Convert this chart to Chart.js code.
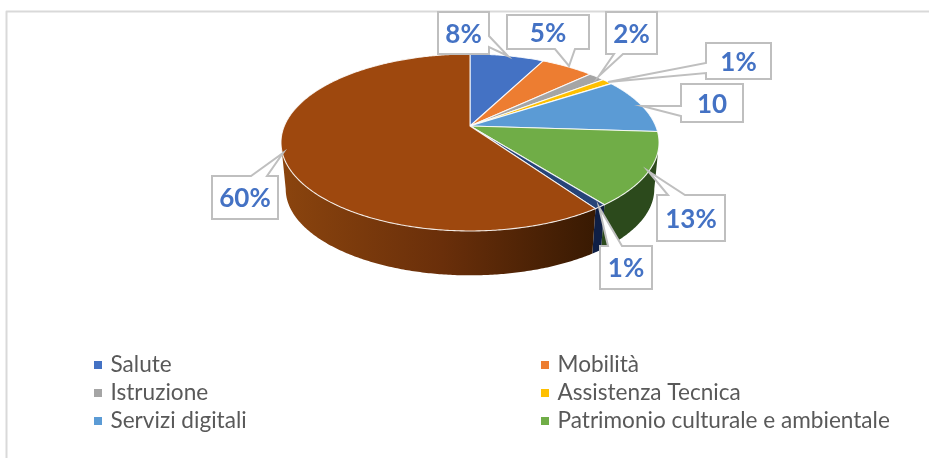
<!DOCTYPE html>
<html lang="it">
<head>
<meta charset="utf-8">
<title>Grafico a torta</title>
<style>
html,body{margin:0;padding:0;background:#fff;}
#wrap{position:absolute;left:0;top:0;width:929px;height:458px;}
canvas{display:block;}
</style>
<script src="https://cdn.jsdelivr.net/npm/chart.js@4"></script>
</head>
<body>
<div id="wrap"><canvas id="c" width="929" height="458"></canvas></div>
<script>
// Data
const categories = ["Salute","Mobilità","Istruzione","Assistenza Tecnica","Servizi digitali","Patrimonio culturale e ambientale","Altro (blu scuro)","Altro (marrone)"];
const values = [7.6,5.4,1.7,1.1,10.2,13.4,0.9,59.7];
const valueLabels = ["8%","5%","2%","1%","10","13%","1%","60%"];
const legendItems = ["Salute","Mobilità","Istruzione","Assistenza Tecnica","Servizi digitali","Patrimonio culturale e ambientale"];
const colors = ["#4472C4","#ED7D31","#A5A5A5","#FFC000","#5B9BD5","#70AD47","#264478","#9E480E"];
const wallColors = ["#2a4578","#8f4b1d","#646464","#9a7400","#375e82","#2c4a1c","#0f1f45","#6b300a"];

// Callout outlines: box [x0,y0,x1,y1], tail [[x,y],[tipx,tipy],[x,y]], side where the tail sits
const callouts = [
 {box:[438,12,489,54],tail:[[489,36],[508,56],[489,47]],side:"r"},
 {box:[507,15,589,49],tail:[[575,49],[569,66],[555,49]],side:"b"},
 {box:[606,12,657,54],tail:[[623,54],[599,76],[614,54]],side:"b"},
 {box:[706,43,771,79],tail:[[706,73],[608,82],[706,63]],side:"l"},
 {box:[681,84,743,122],tail:[[681,116],[642,106],[681,106]],side:"l"},
 {box:[657,195,725,241],tail:[[668,195],[648,171],[685,195]],side:"t"},
 {box:[600,246,652,289],tail:[[608,246],[599,207],[622,246]],side:"t"},
 {box:[212,176,278,219],tail:[[251,176],[283,153],[267,176]],side:"t"}
];

// Perspective of the tilted disc
const CX=470, CY=126, A=185.7, B=85.4, K=0.1864, DEPTH=47, SHRINK=0.975;
function proj(theta, lower){
  const X=Math.sin(theta), Y=Math.cos(theta), d=1+K*Y;
  const s=lower?SHRINK:1;
  return [CX+s*A*X/d, CY+(lower?DEPTH:0)-s*B*Y/d];
}
const SIL=Math.acos(-K); // theta of the right silhouette

const pie3d = {
  id:"pie3d",
  beforeDatasetDraw(chart,args){
    const ctx=chart.ctx, arcs=args.meta.data;
    const ang=arcs.map(a=>[a.startAngle+Math.PI/2,a.endAngle+Math.PI/2]);
    // side walls
    ang.forEach((r,i)=>{
      const s=Math.max(r[0],SIL), e=Math.min(r[1],2*Math.PI-SIL);
      if(e<=s) return;
      const n=Math.max(2,Math.ceil((e-s)/0.01));
      ctx.beginPath();
      for(let j=0;j<=n;j++){const p=proj(s+(e-s)*j/n,false); j?ctx.lineTo(p[0],p[1]):ctx.moveTo(p[0],p[1]);}
      for(let j=n;j>=0;j--){const p=proj(s+(e-s)*j/n,true); ctx.lineTo(p[0],p[1]);}
      ctx.closePath();
      if(i===7){
        const g=ctx.createLinearGradient(283,0,600,0);
        g.addColorStop(0,"#8a440e"); g.addColorStop(0.5,"#6a2f0a"); g.addColorStop(1,"#371902");
        ctx.fillStyle=g;
      } else ctx.fillStyle=wallColors[i];
      ctx.fill();
    });
    // top faces
    ang.forEach((r,i)=>{
      const n=Math.max(2,Math.ceil((r[1]-r[0])/0.01));
      ctx.beginPath(); ctx.moveTo(CX,CY);
      for(let j=0;j<=n;j++){const p=proj(r[0]+(r[1]-r[0])*j/n,false); ctx.lineTo(p[0],p[1]);}
      ctx.closePath();
      ctx.fillStyle=colors[i]; ctx.fill();
      ctx.lineWidth=1.1; ctx.strokeStyle="rgba(255,255,255,0.85)"; ctx.lineJoin="round"; ctx.stroke();
    });
    return false;
  },
  afterDraw(chart){
    const ctx=chart.ctx;
    // chart frame
    ctx.save();
    ctx.strokeStyle="#d9d9d9"; ctx.lineWidth=2;
    ctx.beginPath(); ctx.moveTo(6.5,458); ctx.lineTo(6.5,11.5); ctx.lineTo(929,11.5); ctx.stroke();
    // callouts
    callouts.forEach((c,i)=>{
      const [x0,y0,x1,y1]=c.box, t=c.tail;
      ctx.beginPath(); ctx.moveTo(x0,y0);
      if(c.side==="t"){ctx.lineTo(t[0][0],t[0][1]);ctx.lineTo(t[1][0],t[1][1]);ctx.lineTo(t[2][0],t[2][1]);}
      ctx.lineTo(x1,y0);
      if(c.side==="r"){ctx.lineTo(t[0][0],t[0][1]);ctx.lineTo(t[1][0],t[1][1]);ctx.lineTo(t[2][0],t[2][1]);}
      ctx.lineTo(x1,y1);
      if(c.side==="b"){ctx.lineTo(t[0][0],t[0][1]);ctx.lineTo(t[1][0],t[1][1]);ctx.lineTo(t[2][0],t[2][1]);}
      ctx.lineTo(x0,y1);
      if(c.side==="l"){ctx.lineTo(t[0][0],t[0][1]);ctx.lineTo(t[1][0],t[1][1]);ctx.lineTo(t[2][0],t[2][1]);}
      ctx.closePath();
      ctx.fillStyle="#fff"; ctx.fill();
      ctx.strokeStyle="#bfbfbf"; ctx.lineWidth=2; ctx.lineJoin="miter"; ctx.stroke();
      ctx.fillStyle="#4472C4"; ctx.font="bold 26px Lato"; ctx.textAlign="center"; ctx.textBaseline="middle";
      ctx.fillText(valueLabels[i],(x0+x1)/2,(y0+y1)/2+1.5);
    });
    // legend in two columns
    ctx.font="22.6px Lato"; ctx.textAlign="left"; ctx.textBaseline="middle";
    legendItems.forEach((name,i)=>{
      const col=i%2, row=Math.floor(i/2);
      const sx=col?541:94, ty=365+row*28;
      ctx.fillStyle=colors[i]; ctx.fillRect(sx,ty-4,8,8);
      ctx.fillStyle="#595959"; ctx.fillText(name,sx+16.5,ty);
    });
    ctx.restore();
  }
};

new Chart(document.getElementById("c"),{
  type:"pie",
  data:{labels:categories,datasets:[{data:values,backgroundColor:colors}]},
  options:{
    responsive:false,animation:false,
    plugins:{legend:{display:false},tooltip:{enabled:false},title:{display:false}}
  },
  plugins:[pie3d]
});
</script>
</body>
</html>
